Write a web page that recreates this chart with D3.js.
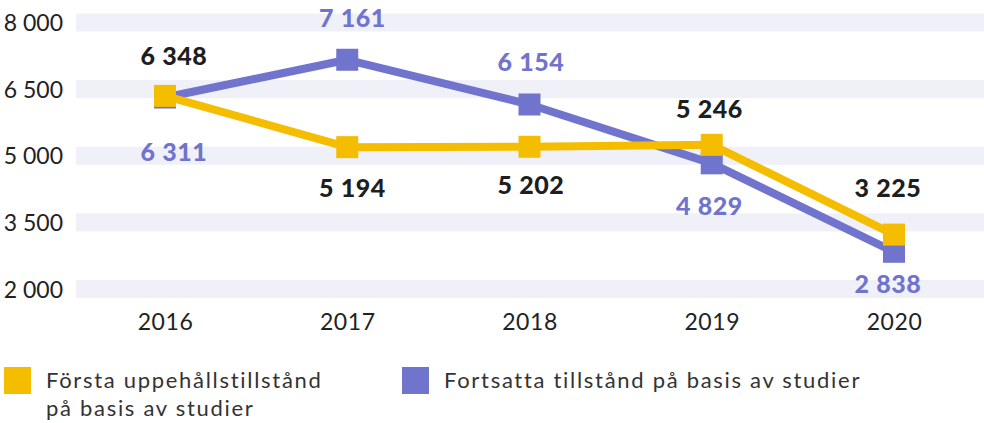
<!DOCTYPE html>
<html>
<head>
<meta charset="utf-8">
<script src="https://cdn.jsdelivr.net/npm/d3@7"></script>
<style>
  body { margin: 0; background: #fff; }
  svg { display: block; font-family: Lato, "Noto Sans", sans-serif; }
</style>
</head>
<body>
<script>
const years = [2016, 2017, 2018, 2019, 2020];
const forsta = [6348, 5194, 5202, 5246, 3225];
const fortsatta = [6311, 7161, 6154, 4829, 2838];
const yTicks = [2000, 3500, 5000, 6500, 8000];
const legendNames = ['Första uppehållstillstånd|på basis av studier', 'Fortsatta tillstånd på basis av studier'];

// layout: vertical offset of each value label from its marker (px)
const forstaLabelDy = [-40, 41, 38, -36, -47];
const fortsattaLabelDy = [54, -42, -42, 43, 32];

const W = 984, H = 423;
const yellow = '#f5bd00', purple = '#7174cc';

const svg = d3.select('body').append('svg')
  .attr('width', W).attr('height', H);

const x = d3.scalePoint().domain(years).range([165, 894]);
const xLabel = d3.scalePoint().domain(years).range([174, 888]);
const y = d3.scaleLinear().domain([2000, 8000]).range([289, 22.5]);

const fmt = v => d3.format(',')(v).replace(',', ' ');

// grid bands
svg.append('g').selectAll('rect')
  .data(yTicks).enter().append('rect')
  .attr('x', 76).attr('width', W - 76)
  .attr('y', d => y(d) - 9).attr('height', 18)
  .attr('fill', '#f0f0f9');

// y axis
const yAxis = d3.axisLeft(y).tickValues(yTicks).tickFormat(fmt).tickSize(0).tickPadding(0);
svg.append('g').attr('transform', 'translate(63,0)').call(yAxis)
  .call(g => g.select('.domain').remove())
  .selectAll('text').attr('font-size', 23).attr('fill', '#222')
  .attr('font-family', 'Lato, sans-serif').attr('dy', '0.35em');

// x axis
const xAxis = d3.axisBottom(x).tickSize(0).tickPadding(0);
svg.append('g').attr('transform', 'translate(0,322)').call(xAxis)
  .call(g => g.select('.domain').remove())
  .selectAll('text').attr('font-size', 23).attr('fill', '#222')
  .attr('letter-spacing', 0.6)
  .attr('font-family', 'Lato, sans-serif').attr('dy', '0.35em');

const line = d3.line().x(d => x(d[0])).y(d => y(d[1]));

function drawSeries(vals, color) {
  const pts = years.map((yr, i) => [yr, vals[i]]);
  svg.append('path').datum(pts)
    .attr('d', line).attr('fill', 'none')
    .attr('stroke', color).attr('stroke-width', 8)
    .attr('stroke-linejoin', 'round');
  svg.append('g').selectAll('rect').data(pts).enter().append('rect')
    .attr('x', d => x(d[0]) - 11).attr('y', d => y(d[1]) - 11)
    .attr('width', 22).attr('height', 22).attr('fill', color);
  return pts;
}

function drawLabels(pts, dys, labelColor) {
  svg.append('g').selectAll('text').data(pts).enter().append('text')
    .attr('x', d => xLabel(d[0]))
    .attr('y', (d, i) => y(d[1]) + dys[i])
    .attr('dy', '0.36em')
    .attr('text-anchor', 'middle')
    .attr('font-size', 25).attr('font-weight', 900)
    .attr('letter-spacing', 0.6)
    .attr('fill', labelColor)
    .text(d => fmt(d[1]));
}

const pPts = drawSeries(fortsatta, purple);
const yPts = drawSeries(forsta, yellow);
drawLabels(pPts, fortsattaLabelDy, purple);
drawLabels(yPts, forstaLabelDy, '#1e1e1e');

// legend
const legend = svg.append('g');
const legX = [4, 402];
const legColors = [yellow, purple];
legendNames.forEach((name, i) => {
  legend.append('rect').attr('x', legX[i]).attr('y', 367)
    .attr('width', 27).attr('height', 27).attr('fill', legColors[i]);
  const t = legend.append('text').attr('x', legX[i] + 42).attr('y', 388)
    .attr('font-size', 22).attr('fill', '#333').attr('letter-spacing', 1.7);
  name.split('|').forEach((ln, j) => {
    t.append('tspan').attr('x', legX[i] + 42).attr('dy', j ? 28 : 0).text(ln);
  });
});
</script>
</body>
</html>
